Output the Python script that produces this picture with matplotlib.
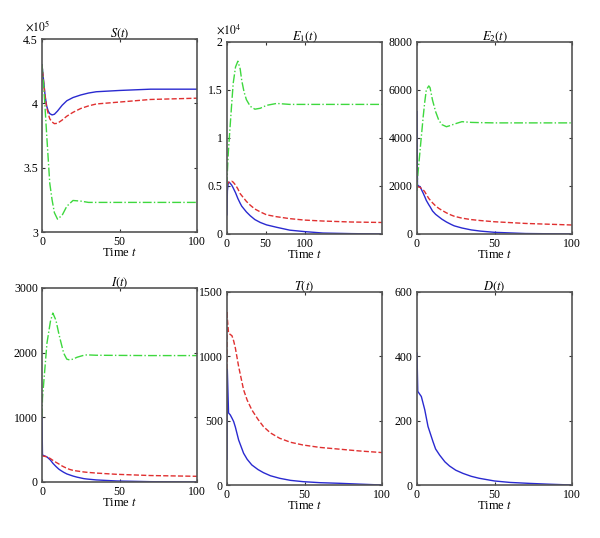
import matplotlib
matplotlib.use("Agg")
import matplotlib.pyplot as plt

plt.rcParams["font.family"] = ["Liberation Serif", "DejaVu Serif"]
plt.rcParams["mathtext.fontset"] = "stix"
plt.rcParams["font.size"] = 8.5

BLUE = "#2a2ad0"
RED = "#e03030"
GREEN = "#3ed83e"

# S(t), units of 1e5
t_S = [0, 1, 2, 3, 4, 5, 6.5, 8, 10, 13, 16, 20, 25, 30, 35, 50, 70, 100]
S_blue = [4.30, 4.18, 4.06, 3.98, 3.94, 3.92, 3.91, 3.915, 3.94, 3.985, 4.02, 4.045,
          4.065, 4.08, 4.09, 4.10, 4.11, 4.11]
S_red = [4.30, 4.17, 4.05, 3.97, 3.92, 3.88, 3.855, 3.842, 3.845, 3.87, 3.90, 3.93,
         3.96, 3.98, 3.995, 4.01, 4.03, 4.04]
S_green = [4.30, 4.15, 3.96, 3.76, 3.57, 3.38, 3.25, 3.15, 3.10, 3.13, 3.20, 3.245,
           3.24, 3.23, 3.23, 3.23, 3.23, 3.23]

# E1(t), units of 1e4, plotted on its own 0..200 time axis
t_E1 = [0, 0.5, 1.7, 3.4, 6, 8, 11, 14, 17, 19, 22, 25, 30, 36, 43, 51, 64, 81, 100,
        124, 160, 200]
E1_blue = [0.20, 0.45, 0.54, 0.535, 0.51, 0.48, 0.43, 0.37, 0.32, 0.29, 0.26, 0.23,
           0.19, 0.15, 0.12, 0.095, 0.07, 0.04, 0.025, 0.01, 0.004, 0.0]
E1_red = [0.50, 0.52, 0.535, 0.545, 0.55, 0.54, 0.51, 0.47, 0.42, 0.40, 0.37, 0.34,
          0.30, 0.26, 0.23, 0.20, 0.18, 0.16, 0.145, 0.135, 0.125, 0.12]
E1_green = [0.50, 0.65, 0.85, 1.05, 1.35, 1.57, 1.74, 1.80, 1.72, 1.60, 1.48, 1.40,
            1.33, 1.30, 1.31, 1.34, 1.36, 1.35, 1.35, 1.35, 1.35, 1.35]

# E2(t)
t_E2 = [0, 0.3, 1, 2, 4, 5, 6, 7.6, 8.4, 10, 12, 14, 16, 19, 22, 24, 29, 35, 41, 50,
        70, 100]
E2_blue = [5100, 2050, 2000, 1970, 1700, 1555, 1400, 1220, 1140, 960, 820, 720, 620,
           500, 400, 340, 250, 170, 120, 70, 20, 0]
E2_red = [1980, 1970, 1960, 1940, 1840, 1760, 1650, 1480, 1420, 1300, 1170, 1070,
          990, 880, 790, 740, 660, 600, 560, 510, 440, 375]
E2_green = [1800, 2300, 2800, 3500, 4890, 5500, 6000, 6170, 6100, 5580, 5100, 4750,
            4560, 4470, 4530, 4580, 4680, 4650, 4640, 4630, 4630, 4630]

# I(t)
t_I = [0, 0.3, 1, 3.2, 5.4, 7, 9, 10.8, 12, 14, 16, 17.8, 20, 22.6, 27, 29, 35, 48,
       70, 100]
I_blue = [1000, 420, 410, 388, 340, 290, 240, 200, 180, 150, 125, 110, 92, 75, 52,
          46, 32, 16, 5, 0]
I_red = [410, 405, 400, 390, 362, 335, 305, 280, 260, 235, 212, 195, 180, 170, 155,
         150, 138, 119, 100, 88]
I_green = [1000, 1300, 1500, 2147, 2480, 2612, 2500, 2300, 2180, 1991, 1900, 1888,
           1900, 1929, 1960, 1966, 1960, 1958, 1955, 1955]

# T(t)
t_T = [0, 0.1, 0.2, 1, 2.1, 3.2, 4.3, 5.4, 7.5, 10.7, 13, 16, 20, 23.5, 28, 34, 41, 49,
       60, 73, 85, 100]
T_blue = [200, 600, 900, 560, 545, 520, 493, 450, 350, 247, 200, 156, 120, 96, 72,
          52, 36, 26, 18, 13, 7, 0]
T_red = [900, 1350, 1300, 1180, 1170, 1160, 1120, 1064, 921, 740, 660, 584, 510, 454,
         405, 363, 332, 311, 292, 278, 265, 252]

# D(t)
t_D = [0, 0.5, 2.8, 5, 7.1, 10.3, 12, 14.6, 18, 21, 25, 29.7, 35, 40, 50, 60, 72.7,
       85, 100]
D_blue = [410, 291, 275, 234, 182, 135, 112, 93, 72, 59, 46, 36, 27, 21, 12.5, 8,
          5, 2.5, 0]

fig = plt.figure(figsize=(6.0, 5.38), dpi=100)
W, H = 600.0, 538.0


def make_ax(left, right, top, bottom):
    return fig.add_axes([left / W, 1 - bottom / H, (right - left) / W, (bottom - top) / H])


def style(ax, title, yticks, ylim, xlim=(0, 100), xticks=(0, 50, 100)):
    ax.set_xlim(*xlim)
    ax.set_ylim(*ylim)
    ax.set_xticks(xticks)
    ax.set_yticks(yticks)
    ax.set_title(title, fontsize=9, pad=2)
    ax.set_xlabel("Time $t$", fontsize=9, labelpad=-1)
    ax.tick_params(direction="in", top=True, right=True, length=2.5, width=0.8,
                   labelsize=8.5, pad=3, color="#333333")
    for sp in ax.spines.values():
        sp.set_color("#555555")
        sp.set_linewidth(1.2)


ax1 = make_ax(42, 197, 39, 232)
ax1.plot(t_S, S_blue, color=BLUE, lw=1.0)
ax1.plot(t_S, S_red, color=RED, lw=1.0, ls="--")
ax1.plot(t_S, S_green, color=GREEN, lw=1.0, ls="-.")
style(ax1, "$S(t)$", [3, 3.5, 4, 4.5], (3, 4.5))
ax1.set_yticklabels(["3", "3.5", "4", "4.5"])
ax1.text(-0.11, 1.045, r"$\times10^5$", transform=ax1.transAxes, fontsize=8.5)

ax2 = make_ax(227, 382, 42, 234)
ax2.plot(t_E1, E1_blue, color=BLUE, lw=1.0)
ax2.plot(t_E1, E1_red, color=RED, lw=1.0, ls="--")
ax2.plot(t_E1, E1_green, color=GREEN, lw=1.0, ls="-.")
style(ax2, "$E_1(t)$", [0, 0.5, 1, 1.5, 2], (0, 2), xlim=(0, 200))
ax2.set_yticklabels(["0", "0.5", "1", "1.5", "2"])
ax2.text(-0.07, 1.045, r"$\times10^4$", transform=ax2.transAxes, fontsize=8.5)

ax3 = make_ax(417, 572, 42, 234)
ax3.plot(t_E2, E2_blue, color=BLUE, lw=1.0)
ax3.plot(t_E2, E2_red, color=RED, lw=1.0, ls="--")
ax3.plot(t_E2, E2_green, color=GREEN, lw=1.0, ls="-.")
style(ax3, "$E_2(t)$", [0, 2000, 4000, 6000, 8000], (0, 8000))

ax4 = make_ax(42, 197, 288, 482)
ax4.plot(t_I, I_blue, color=BLUE, lw=1.0)
ax4.plot(t_I, I_red, color=RED, lw=1.0, ls="--")
ax4.plot(t_I, I_green, color=GREEN, lw=1.0, ls="-.")
style(ax4, "$I(t)$", [0, 1000, 2000, 3000], (0, 3000))

ax5 = make_ax(227, 382, 292, 485)
ax5.plot(t_T, T_blue, color=BLUE, lw=1.0)
ax5.plot(t_T, T_red, color=RED, lw=1.0, ls="--")
style(ax5, "$T(t)$", [0, 500, 1000, 1500], (0, 1500))

ax6 = make_ax(417, 572, 292, 485)
ax6.plot(t_D, D_blue, color=BLUE, lw=1.0)
style(ax6, "$D(t)$", [0, 200, 400, 600], (0, 600))

fig.savefig("out.png", dpi=100)
